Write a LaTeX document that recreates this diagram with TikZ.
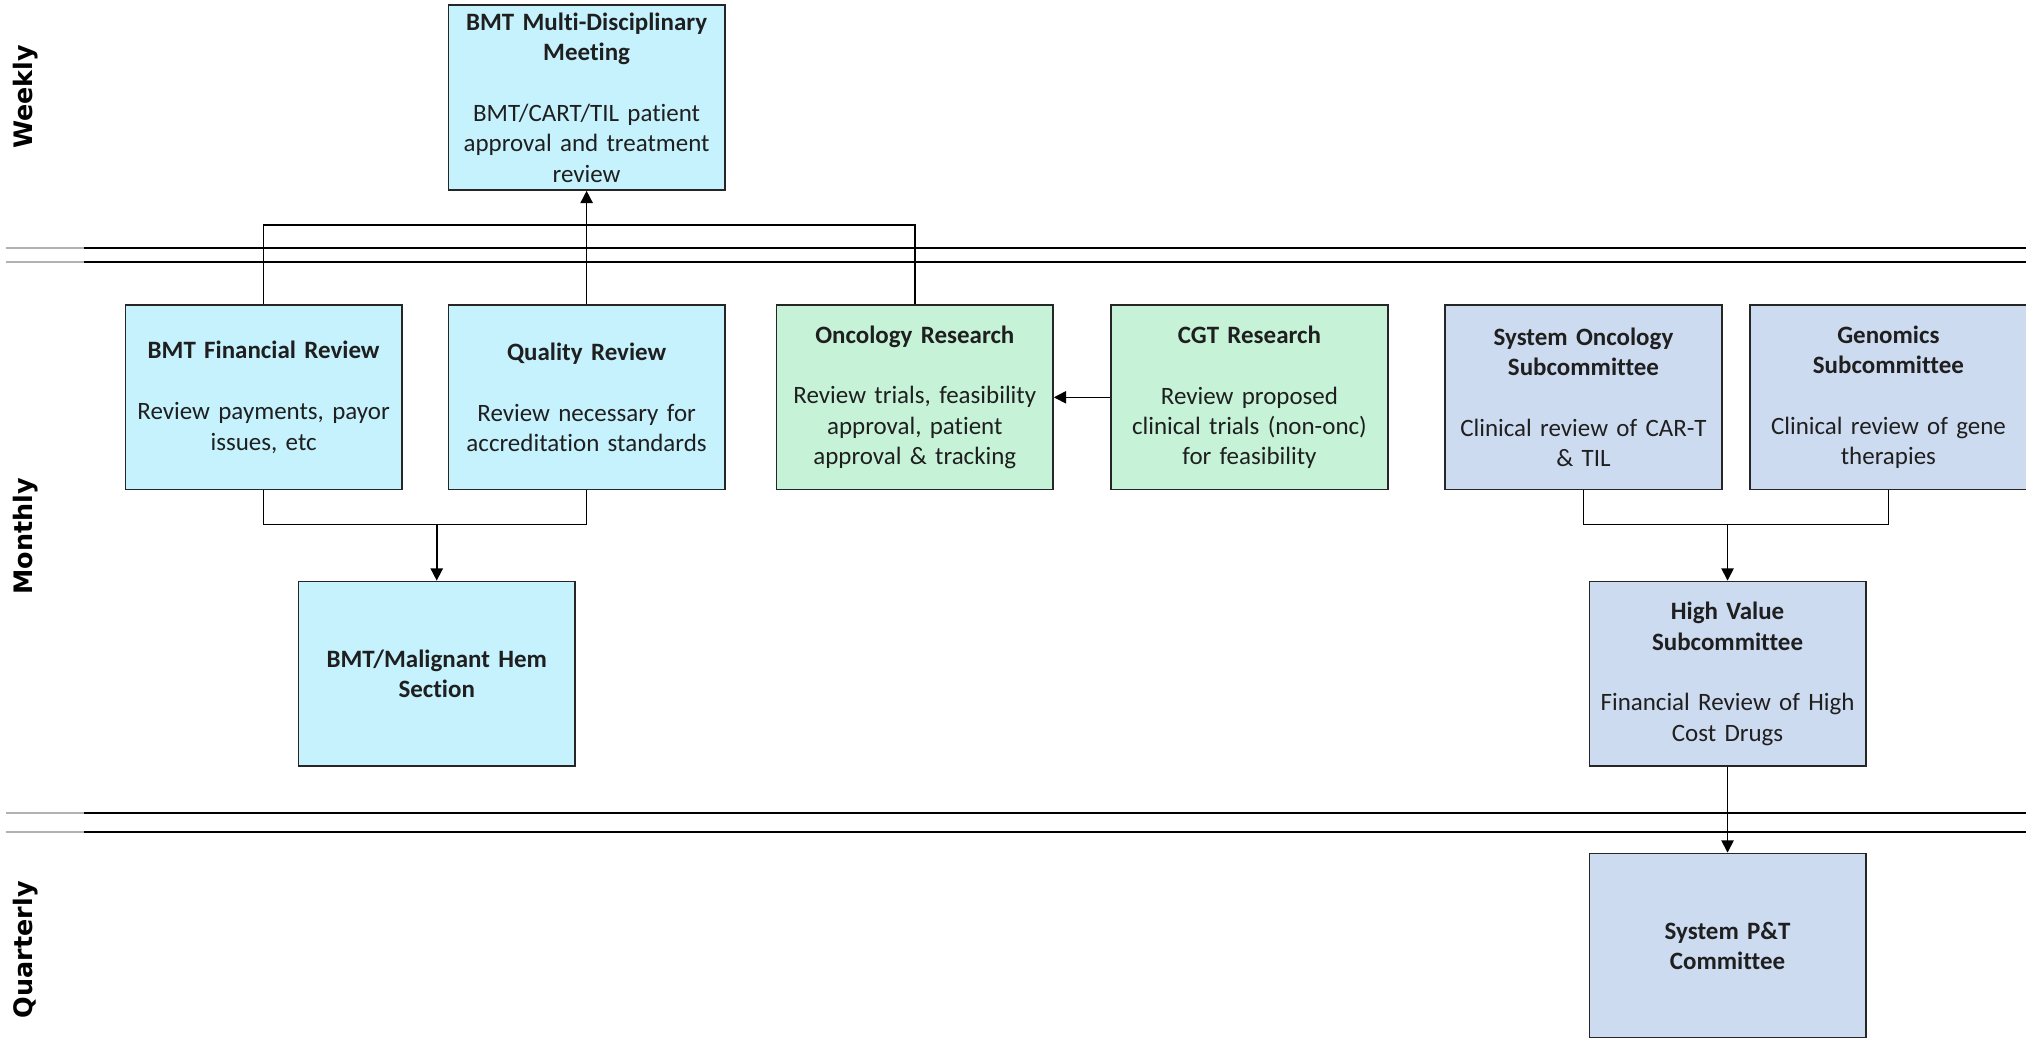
\documentclass[tikz,border=0pt]{standalone}
\usepackage{fontspec}
\setmainfont[Ligatures=NoCommon]{Carlito}
\newfontfamily\lanefont{DejaVu Sans}
\usepackage{tikz}
\usetikzlibrary{arrows.meta}
\usetikzlibrary{calc}
\definecolor{bmtcyan}{RGB}{197,242,253}
\definecolor{resgreen}{RGB}{198,243,216}
\definecolor{sysblue}{RGB}{205,219,240}

\begin{document}
\begin{tikzpicture}[
        box/.style={draw=black!85, line width=0.7pt, rectangle, align=center, text=black!88,
            text width=4.0cm, inner xsep=0.14cm, minimum height=2.86cm, font=\fontsize{11}{13.4}\selectfont},
        arr/.style={-{Triangle[length=1.9mm,width=1.9mm]}, line width=0.7pt},
        lane/.style={rotate=90, font=\lanefont\bfseries\fontsize{11.2}{13}\selectfont}
    ]
        \useasboundingbox (0,0) rectangle (31.36,-16.06);
        % lane separators
        \draw[gray!60, line width=0.7pt] (0.1,-3.84) -- (1.3,-3.84);
        \draw[gray!60, line width=0.7pt] (0.1,-4.06) -- (1.3,-4.06);
        \draw[gray!60, line width=0.7pt] (0.1,-12.58) -- (1.3,-12.58);
        \draw[gray!60, line width=0.7pt] (0.1,-12.88) -- (1.3,-12.88);
        \draw[line width=0.7pt] (1.3,-3.84) -- (31.36,-3.84);
        \draw[line width=0.7pt] (1.3,-4.06) -- (31.36,-4.06);
        \draw[line width=0.7pt] (1.3,-12.58) -- (31.36,-12.58);
        \draw[line width=0.7pt] (1.3,-12.88) -- (31.36,-12.88);
        \node[lane] (wk) at (0.4,-1.5) {Weekly};
        \node[lane] (mo) at (0.4,-8.3) {Monthly};
        \node[lane] (qu) at (0.4,-14.7) {Quarterly};
        % boxes
        \node[box, fill=bmtcyan] (mdm) at (9.08,-1.51)
            {\textbf{BMT Multi-Disciplinary}\\\textbf{Meeting}\\[13.4pt]BMT/CART/TIL patient\\approval and treatment\\review};
        \node[box, fill=bmtcyan] (fin) at (4.08,-6.15)
            {\textbf{BMT Financial Review}\\[13.4pt]Review payments, payor\\issues, etc};
        \node[box, fill=bmtcyan] (qual) at (9.08,-6.15)
            {\textbf{Quality Review}\\[13.4pt]Review necessary for\\accreditation standards};
        \node[box, fill=resgreen] (onc) at (14.16,-6.15)
            {\textbf{Oncology Research}\\[13.4pt]Review trials, feasibility\\approval, patient\\approval \& tracking};
        \node[box, fill=resgreen] (cgt) at (19.34,-6.15)
            {\textbf{CGT Research}\\[13.4pt]Review proposed\\clinical trials (non-onc)\\for feasibility};
        \node[box, fill=sysblue] (sonc) at (24.51,-6.15)
            {\textbf{System Oncology}\\\textbf{Subcommittee}\\[13.4pt]Clinical review of CAR-T\\\& TIL};
        \node[box, fill=sysblue] (gen) at (29.23,-6.15)
            {\textbf{Genomics}\\\textbf{Subcommittee}\\[13.4pt]Clinical review of gene\\therapies};
        \node[box, fill=bmtcyan] (hem) at (6.76,-10.43)
            {\textbf{BMT/Malignant Hem}\\\textbf{Section}};
        \node[box, fill=sysblue] (hv) at (26.74,-10.43)
            {\textbf{High Value}\\\textbf{Subcommittee}\\[13.4pt]Financial Review of High\\Cost Drugs};
        \node[box, fill=sysblue] (pt) at (26.74,-14.64)
            {\textbf{System P\&T}\\\textbf{Committee}};
        % connectors
        \coordinate (topbus) at (0,-3.48);
        \coordinate (lowbus) at (0,-8.12);
        \draw[line width=0.7pt] (fin.north) -- (fin.north |- topbus) -- (onc.north |- topbus) -- (onc.north);
        \draw[arr] (qual.north) -- (mdm.south);
        \draw[arr] (cgt.west) -- (onc.east);
        \draw[line width=0.7pt] (fin.south) -- (fin.south |- lowbus) -- (qual.south |- lowbus) -- (qual.south);
        \draw[arr] (hem.north |- lowbus) -- (hem.north);
        \draw[line width=0.7pt] (sonc.south) -- (sonc.south |- lowbus) -- (gen.south |- lowbus) -- (gen.south);
        \draw[arr] (hv.north |- lowbus) -- (hv.north);
        \draw[arr] (hv.south) -- (pt.north);
    \end{tikzpicture}
\end{document}
